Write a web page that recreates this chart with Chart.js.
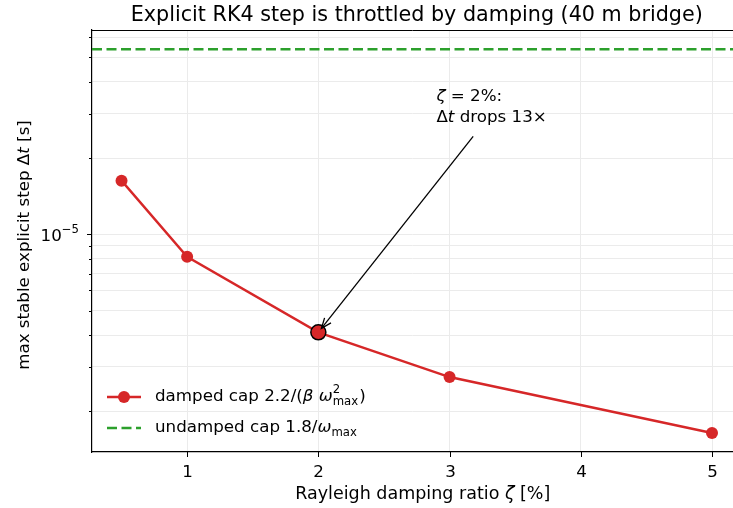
<!DOCTYPE html>
<html>
<head>
<meta charset="utf-8">
<script src="https://cdn.jsdelivr.net/npm/chart.js@4.4.1/dist/chart.umd.min.js"></script>
<style>
  html, body { margin: 0; padding: 0; background: #fff; overflow: hidden; }
  #wrap { width: 733px; height: 508px; }
</style>
</head>
<body>
<div id="wrap"><canvas id="chart" width="733" height="508"></canvas></div>
<script>
// values
const zeta = [0.5, 1, 2, 3, 5];                       // Rayleigh damping ratio [%]
const dtDamped = [1.63e-5, 8.15e-6, 4.1e-6, 2.73e-6, 1.64e-6]; // damped cap [s]
const dtUndamped = 5.39e-5;                           // undamped cap [s]
const highlightZeta = 2;
const highlightDt = 4.1e-6;
const xTicks = [1, 2, 3, 4, 5];
const xTickLabels = ['1', '2', '3', '4', '5'];
const yTicks = [2e-6, 3e-6, 4e-6, 5e-6, 6e-6, 7e-6, 8e-6, 9e-6, 1e-5, 2e-5, 3e-5, 4e-5, 5e-5, 6e-5];
const yMajorTicks = [1e-5];
const yMajorExponents = ['−5'];
const xRange = [0.275, 5.16];
const yRange = [1.38e-6, 6.42e-5];

const FONT = '"DejaVu Sans", sans-serif';
const FS = 16.7;
const RED = '#d62728';
const GREEN = '#2ca02c';
const GRID = '#ebebeb';

// draw a run of text pieces (plain / italic / super / sub)
function drawRich(ctx, parts, x, y, size) {
  let cx = x;
  for (const p of parts) {
    if (p.stack) {
      // superscript and subscript on top of each other
      const s = size * 0.7;
      ctx.font = s + 'px ' + FONT;
      ctx.fillText(p.sup, cx, y - size * 0.45);
      ctx.fillText(p.sub, cx, y + size * 0.3);
      cx += Math.max(ctx.measureText(p.sup).width, ctx.measureText(p.sub).width) + 1;
      continue;
    }
    const s = (p.sub || p.sup) ? size * 0.7 : size;
    const dy = p.sub ? size * 0.3 : (p.sup ? -size * 0.42 : 0);
    ctx.font = (p.it ? 'italic ' : '') + s + 'px ' + FONT;
    ctx.fillText(p.t, cx, y + dy);
    cx += ctx.measureText(p.t).width;
  }
  return cx - x;
}
function richWidth(ctx, parts, size) {
  let w = 0;
  for (const p of parts) {
    if (p.stack) {
      ctx.font = size * 0.7 + 'px ' + FONT;
      w += Math.max(ctx.measureText(p.sup).width, ctx.measureText(p.sub).width) + 1;
      continue;
    }
    ctx.font = (p.it ? 'italic ' : '') + ((p.sub || p.sup) ? size * 0.7 : size) + 'px ' + FONT;
    w += ctx.measureText(p.t).width;
  }
  return w;
}

const decorations = {
  id: 'decorations',
  afterDraw(chart) {
    const ctx = chart.ctx;
    const area = chart.chartArea;
    const xs = chart.scales.x, ys = chart.scales.y;
    const axisMid = xs.getPixelForValue(2.75);
    ctx.save();
    ctx.fillStyle = '#000';
    ctx.strokeStyle = '#000';

    // top spine
    ctx.lineWidth = 1;
    ctx.beginPath();
    ctx.moveTo(area.left, Math.round(area.top) + 0.5);
    ctx.lineTo(area.right, Math.round(area.top) + 0.5);
    ctx.stroke();

    // tick marks and tick labels
    ctx.lineWidth = 1;
    ctx.textBaseline = 'alphabetic';
    ctx.textAlign = 'center';
    ctx.font = FS + 'px ' + FONT;
    xTicks.forEach((v, i) => {
      const px = Math.round(xs.getPixelForValue(v)) + 0.5;
      ctx.beginPath();
      ctx.moveTo(px, area.bottom);
      ctx.lineTo(px, area.bottom + 5);
      ctx.stroke();
      ctx.fillText(xTickLabels[i], px, 476.5);
    });
    yTicks.forEach(v => {
      const py = Math.round(ys.getPixelForValue(v)) + 0.5;
      const major = yMajorTicks.indexOf(v);
      const len = major >= 0 ? 5 : 3;
      ctx.beginPath();
      ctx.moveTo(area.left, py);
      ctx.lineTo(area.left - len, py);
      ctx.stroke();
      if (major >= 0) {
        const lab = [{t: '10'}, {t: yMajorExponents[major], sup: true}];
        ctx.textAlign = 'left';
        const w = richWidth(ctx, lab, FS);
        drawRich(ctx, lab, area.left - 13 - w, py + 6, FS);
        ctx.textAlign = 'center';
      }
    });

    // title
    ctx.textAlign = 'center';
    ctx.font = '20.7px ' + FONT;
    ctx.fillText('Explicit RK4 step is throttled by damping (40 m bridge)', axisMid, 21);

    // x label
    ctx.textAlign = 'left';
    const xl = [{t: 'Rayleigh damping ratio '}, {t: 'ζ', it: true}, {t: ' [%]'}];
    const xlw = richWidth(ctx, xl, 17.5);
    drawRich(ctx, xl, axisMid + 6 - xlw / 2, 499, 17.5);

    // y label (rotated)
    const yl = [{t: 'max stable explicit step Δ'}, {t: 't', it: true}, {t: ' [s]'}];
    const ylw = richWidth(ctx, yl, FS);
    ctx.save();
    ctx.translate(29, (area.top + area.bottom) / 2 + 4);
    ctx.rotate(-Math.PI / 2);
    drawRich(ctx, yl, -ylw / 2, 0, FS);
    ctx.restore();

    // annotation text + arrow
    ctx.textBaseline = 'middle';
    const tx = xs.getPixelForValue(2.9);
    drawRich(ctx, [{t: 'ζ', it: true}, {t: ' = 2%:'}], tx, ys.getPixelForValue(3.49e-5), FS);
    drawRich(ctx, [{t: 'Δ'}, {t: 't', it: true}, {t: ' drops 13×'}], tx, ys.getPixelForValue(2.88e-5), FS);
    const ax0 = xs.getPixelForValue(3.18), ay0 = ys.getPixelForValue(2.44e-5);
    const px = xs.getPixelForValue(highlightZeta), py = ys.getPixelForValue(highlightDt);
    const ang = Math.atan2(py - ay0, px - ax0);
    const hx = px - Math.cos(ang) * 5, hy = py - Math.sin(ang) * 5;
    ctx.lineWidth = 1.3;
    ctx.beginPath();
    ctx.moveTo(ax0, ay0);
    ctx.lineTo(hx, hy);
    ctx.stroke();
    ctx.beginPath();
    ctx.moveTo(hx - 11 * Math.cos(ang - 0.38), hy - 11 * Math.sin(ang - 0.38));
    ctx.lineTo(hx, hy);
    ctx.lineTo(hx - 11 * Math.cos(ang + 0.38), hy - 11 * Math.sin(ang + 0.38));
    ctx.stroke();

    // legend
    const lx = 107, ly1 = 397, ly2 = 428;
    ctx.strokeStyle = RED;
    ctx.lineWidth = 2.4;
    ctx.beginPath();
    ctx.moveTo(lx, ly1);
    ctx.lineTo(lx + 34, ly1);
    ctx.stroke();
    ctx.fillStyle = RED;
    ctx.beginPath();
    ctx.arc(lx + 17, ly1, 6, 0, Math.PI * 2);
    ctx.fill();
    ctx.strokeStyle = GREEN;
    ctx.setLineDash([10, 4.5]);
    ctx.beginPath();
    ctx.moveTo(lx, ly2);
    ctx.lineTo(lx + 34, ly2);
    ctx.stroke();
    ctx.setLineDash([]);
    ctx.fillStyle = '#000';
    drawRich(ctx, [{t: 'damped cap 2.2/('}, {t: 'β', it: true}, {t: ' '}, {t: 'ω', it: true},
      {stack: true, sup: '2', sub: 'max'}, {t: ')'}], 155, ly1, FS);
    drawRich(ctx, [{t: 'undamped cap 1.8/'}, {t: 'ω', it: true}, {t: 'max', sub: true}], 155, ly2, FS);

    ctx.restore();
  }
};

new Chart(document.getElementById('chart'), {
  type: 'line',
  data: {
    datasets: [
      {
        label: 'undamped',
        data: [{x: xRange[0], y: dtUndamped}, {x: xRange[1], y: dtUndamped}],
        borderColor: GREEN,
        borderWidth: 2.4,
        borderDash: [10, 4.5],
        pointRadius: 0
      },
      {
        label: 'highlight',
        data: [{x: highlightZeta, y: highlightDt}],
        showLine: false,
        pointRadius: 7.5,
        pointBackgroundColor: RED,
        pointBorderColor: '#000',
        pointBorderWidth: 1.5
      },
      {
        label: 'damped',
        data: zeta.map((z, i) => ({x: z, y: dtDamped[i]})),
        borderColor: RED,
        borderWidth: 2.4,
        pointRadius: 6,
        pointBackgroundColor: RED,
        pointBorderWidth: 0,
        tension: 0
      }
    ]
  },
  options: {
    responsive: false,
    animation: false,
    layout: { autoPadding: false, padding: { top: 30, left: 0, right: 0, bottom: 0 } },
    plugins: { legend: { display: false }, title: { display: false }, tooltip: { enabled: false } },
    scales: {
      x: {
        type: 'linear',
        min: xRange[0],
        max: xRange[1],
        afterBuildTicks: s => { s.ticks = xTicks.map(v => ({value: v})); },
        afterFit: s => { s.height = 56; },
        grid: { color: GRID, lineWidth: 1, drawTicks: false },
        border: { color: '#000', width: 1.2 },
        ticks: { display: false }
      },
      y: {
        type: 'logarithmic',
        min: yRange[0],
        max: yRange[1],
        afterBuildTicks: s => { s.ticks = yTicks.map(v => ({value: v})); },
        afterFit: s => { s.width = 92; },
        grid: { color: GRID, lineWidth: 1, drawTicks: false },
        border: { color: '#000', width: 1.2 },
        ticks: { display: false }
      }
    }
  },
  plugins: [decorations]
});
</script>
</body>
</html>
